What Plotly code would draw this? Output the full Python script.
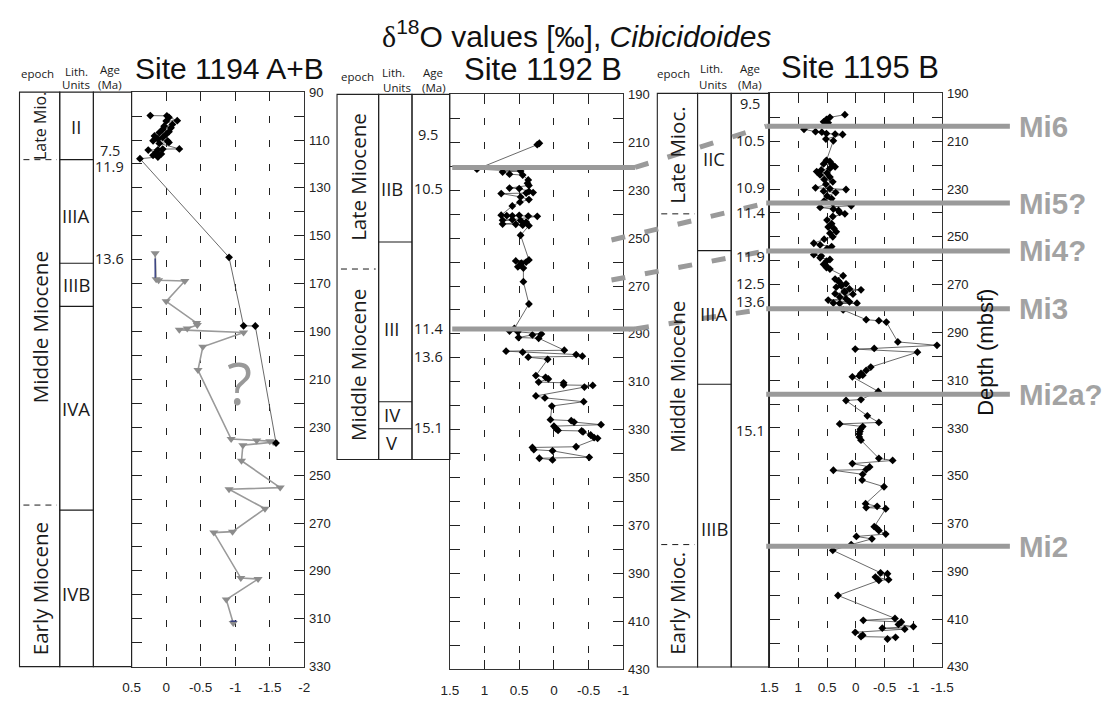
import plotly.graph_objects as go

W, H = 1120, 704

# ---------------- oxygen isotope data (depth in mbsf, d18O in permil) ----------------
# Site 1194 A+B, black diamonds
SITE_1194_DEPTH = [99.8, 99.9, 100.5, 101.9, 102.1, 103.5, 104.2, 104.9, 105.5, 106.5, 106.9,
                   107.6, 108.3, 108.9, 109.6, 110.3, 110.4, 111.0, 111.4, 113.7, 113.8, 114.1,
                   114.2, 115.1, 115.8, 116.4, 117.1, 117.8, 159.0, 187.6, 187.7, 236.6]
SITE_1194_D18O = [0.23, -0.01, -0.04, -0.16, 0.00, -0.09, 0.03, -0.07, 0.05, -0.04, 0.10,
                  0.00, 0.17, 0.05, 0.12, 0.19, -0.02, -0.04, 0.10, -0.19, 0.05, 0.12,
                  0.26, 0.145, 0.07, 0.19, 0.12, 0.38, -0.91, -1.12, -1.29, -1.59]

# Site 1194 A+B, grey triangles
SITE_1194B_DEPTH = [157.3, 168.2, 168.6, 168.9, 177.4, 186.4, 187.3, 188.7, 189.3, 190.4, 196.4,
                    206.1, 234.9, 235.5, 235.8, 236.2, 237.5, 244.0, 255.2, 255.9, 264.0, 273.6,
                    274.0, 293.0, 293.4, 302.0, 311.8]
SITE_1194B_D18O = [0.16, 0.145, 0.11, -0.27, 0.00, -0.44, -0.45, -0.305, -0.19, -1.12, -0.53,
                   -0.46, -0.94, -1.31, -1.50, -1.55, -1.11, -1.09, -1.65, -0.91, -1.43, -0.96,
                   -0.69, -1.08, -1.33, -0.87, -0.97]

# Site 1192 B
SITE_1192_DEPTH = [210.4, 211.0, 221.2, 222.0, 222.4, 223.3, 223.7, 225.7, 227.1, 228.0, 229.1,
                   229.3, 230.5, 231.0, 231.2, 231.4, 232.8, 233.9, 235.0, 236.6, 240.4, 240.5,
                   240.6, 240.7, 240.8, 240.9, 242.3, 242.5, 242.6, 243.3, 244.1, 244.2, 244.6,
                   244.8, 248.8, 259.1, 259.5, 260.0, 260.4, 261.1, 262.0, 262.5, 268.2, 277.5,
                   287.7, 288.8, 289.1, 290.0, 290.4, 291.5, 291.8, 296.8, 297.2, 297.6, 298.6,
                   299.3, 299.7, 300.6, 307.4, 308.1, 308.8, 310.1, 310.4, 311.3, 311.5, 312.2,
                   315.9, 316.7, 318.3, 320.1, 325.8, 326.2, 326.8, 327.9, 328.5, 329.5, 330.3,
                   330.5, 330.9, 332.2, 333.3, 333.6, 337.1, 337.4, 338.3, 338.8, 341.5, 341.9,
                   342.6]
SITE_1192_D18O = [0.21, 0.24, 1.11, 0.48, 0.74, 0.64, 0.45, 0.37, 0.38, 0.36, 0.64,
                  0.50, 0.36, 0.30, 0.40, 0.76, 0.48, 0.36, 0.49, 0.60, 0.76, 0.50,
                  0.68, 0.60, 0.37, 0.24, 0.60, 0.74, 0.48, 0.40, 0.74, 0.55, 0.45,
                  0.36, 0.48, 0.36, 0.55, 0.40, 0.47, 0.48, 0.52, 0.44, 0.44, 0.36,
                  0.57, 0.64, 0.52, 0.18, 0.31, 0.51, 0.22, -0.15, 0.69, 0.45, -0.32,
                  -0.41, 0.37, 0.09, 0.26, 0.12, 0.08, 0.22, -0.14, -0.14, -0.56, -0.44,
                  0.26, 0.13, -0.43, 0.03, 0.05, -0.25, -0.29, -0.68, 0.00, -0.03, -0.06,
                  -0.40, -0.42, -0.53, -0.58, -0.63, -0.32, 0.31, 0.29, 0.02, -0.51, 0.21,
                  0.02]

# Site 1195 B
SITE_1195_DEPTH = [198.9, 200.0, 200.9, 201.9, 202.3, 205.0, 206.0, 206.2, 206.8, 207.0, 207.2,
                   209.1, 209.8, 218.0, 218.5, 219.5, 220.0, 220.7, 221.4, 222.0, 222.7, 223.3,
                   224.1, 225.0, 226.0, 227.0, 228.0, 229.5, 229.8, 230.2, 230.9, 231.5, 232.9,
                   234.0, 235.0, 236.0, 237.0, 237.7, 238.4, 239.0, 239.8, 240.4, 241.5, 243.0,
                   244.5, 245.9, 246.5, 247.9, 248.5, 250.0, 251.0, 252.7, 253.4, 254.1, 255.0,
                   257.5, 258.0, 258.8, 259.5, 260.2, 261.5, 262.0, 262.9, 263.5, 266.3, 267.7,
                   268.5, 269.1, 269.7, 270.5, 271.1, 271.8, 272.2, 272.8, 273.2, 273.8, 274.0,
                   275.2, 275.9, 276.5, 277.2, 277.7, 277.8, 277.9, 280.6, 284.7, 285.1, 285.7,
                   294.0, 295.4, 296.7, 297.0, 298.3, 304.5, 305.9, 307.2, 307.9, 308.2, 308.6,
                   314.7, 318.1, 318.5, 324.9, 327.7, 328.3, 329.4, 330.5, 331.5, 332.5, 333.8,
                   335.1, 342.7, 343.6, 344.9, 346.3, 347.4, 347.7, 349.4, 351.8, 354.6, 361.7,
                   362.8, 363.3, 363.8, 371.3, 371.9, 372.9, 374.4, 375.4, 376.4, 378.8, 381.2,
                   390.6, 391.0, 392.4, 393.5, 393.8, 400.1, 409.7, 410.5, 411.2, 412.2, 413.1,
                   413.8, 414.2, 415.5, 416.7, 417.3, 417.6, 418.3]
SITE_1195_D18O = [0.19, 0.45, 0.51, 0.56, 0.48, 0.90, 0.70, 0.59, 0.51, 0.36, 0.23,
                  0.52, 0.39, 0.51, 0.45, 0.56, 0.40, 0.36, 0.45, 0.60, 0.68, 0.50,
                  0.62, 0.45, 0.55, 0.40, 0.52, 0.70, 0.45, 0.17, 0.56, 0.35, 0.50,
                  0.42, 0.55, 0.40, 0.08, 0.62, 0.39, 0.30, 0.28, 0.19, 0.40, 0.50,
                  0.42, 0.48, 0.38, 0.34, 0.45, 0.40, 0.55, 0.73, 0.62, 0.42, 0.50,
                  0.73, 0.60, 0.62, 0.45, 0.51, 0.56, 0.52, 0.51, 0.45, 0.22, 0.36,
                  0.30, 0.28, 0.17, 0.25, 0.34, 0.11, -0.09, 0.20, 0.19, 0.36, 0.05,
                  0.28, 0.17, 0.48, 0.11, 0.39, -0.02, 0.28, 0.22, -0.18, -0.40, -0.53,
                  -0.73, -1.41, -0.32, 0.01, -1.07, -0.26, -0.18, -0.09, -0.12, -0.06, 0.06,
                  -0.39, -0.09, 0.17, -0.20, -0.40, 0.28, -0.12, -0.08, -0.07, -0.06, -0.06,
                  -0.09, -0.40, -0.64, 0.06, -0.24, -0.18, 0.39, -0.12, -0.11, -0.49, -0.17,
                  -0.37, -0.18, -0.52, -0.32, -0.36, -0.40, -0.52, -0.01, -0.28, 0.08, 0.40,
                  -0.43, -0.55, -0.34, -0.57, -0.40, 0.31, -0.68, -0.13, -0.79, -0.74, -1.00,
                  -0.46, -0.85, 0.01, -0.12, -0.09, -0.69, -0.55]

# ---------------- stratigraphic columns ----------------
# (label, top depth, bottom depth, label depth)
EPOCHS_1194 = [("Late Mio.", 90, 118.2, 104), ("Middle Miocene", 118.2, 262.5, 188),
               ("Early Miocene", 262.5, 330, 297.5)]
LITH_1194 = [("II", 90, 118.2, 104.2), ("IIIA", 118.2, 161.5, 141.5), ("IIIB", 161.5, 179.5, 170.5),
             ("IVA", 179.5, 264.6, 222), ("IVB", 264.6, 330, 299.3)]
AGES_1194 = [("7.5", 114.4), ("11.9", 121.2), ("13.6", 159.4)]

EPOCHS_1192 = [("Late Miocene", 190, 262.9, 224.5), ("Middle Miocene", 262.9, 342.4, 303)]
LITH_1192 = [("IIB", 190, 251.6, 229.1), ("III", 251.6, 318.3, 287.7), ("IV", 318.3, 329.6, 323.5),
             ("V", 329.6, 342.4, 335.4)]
AGES_1192 = [("9.5", 206.9), ("10.5", 229.1), ("11.4", 287.7), ("13.6", 299.5), ("15.1", 329.2)]

EPOCHS_1195 = [("Late Mioc.", 190, 240.4, 216), ("Middle Miocene", 240.4, 378.8, 308.5),
               ("Early Mioc.", 378.8, 430, 403.5)]
LITH_1195 = [("IIC", 190, 255.8, 217.3), ("IIIA", 255.8, 311.7, 282), ("IIIB", 311.7, 430, 371.9)]
AGES_1195 = [("9.5", 194.1), ("10.5", 209.8), ("10.9", 229.5), ("11.4", 239.8), ("11.9", 258.2),
             ("12.5", 269.5), ("13.6", 277.0), ("15.1", 331.0)]

# Miocene oxygen isotope events (depth mbsf); None = not identified
MI_EVENTS = ["Mi6", "Mi5?", "Mi4?", "Mi3", "Mi2a?", "Mi2"]
MI_DEPTH_1195 = [203.7, 235.9, 255.9, 280.1, 315.9, 379.5]
MI_DEPTH_1192 = [220.5, 250.8, 267.5, 287.9, None, None]
MI_SOLID_1192 = [True, False, False, True, False, False]

# ---------------- layout geometry (pixels) ----------------
PANELS = {
    1: dict(left=125, right=301, top=87, bottom=674, depth=(90, 330), d18o=(0.5, -2),
            cols=(10.7, 51.7, 86, 125), col_bottom=330, ax=""),
    2: dict(left=449.3, right=626, top=89.3, bottom=676.7, depth=(190, 430), d18o=(1.5, -1),
            cols=(334.3, 376.7, 410.7, 449.3), col_bottom=342.4, ax="2"),
    3: dict(left=775, right=951, top=88.3, bottom=674.3, depth=(190, 430), d18o=(1.5, -1.5),
            cols=(660.7, 701.7, 736, 775), col_bottom=430, ax="3"),
}
COL_FONT = "Open Sans"
SANS = "Liberation Sans"
INK = "#1a1a1a"
MI_GREY = "#9a9a9a"


def fx(px):
    return px / W


def fy(py):
    return 1 - py / H


def depth_py(panel, d):
    p = PANELS[panel]
    d0, d1 = p["depth"]
    return p["top"] + (d - d0) / (d1 - d0) * (p["bottom"] - p["top"])


fig = go.Figure()


def text(t, x, y, size, family=COL_FONT, angle=0, color=INK, xanchor="center"):
    fig.add_annotation(text=t, x=fx(x), y=fy(y), xref="paper", yref="paper", showarrow=False,
                       textangle=angle, xanchor=xanchor, yanchor="middle",
                       font=dict(size=size, family=family, color=color))


def hline(x0, x1, y, color=INK, width=1, dash=None):
    fig.add_shape(type="line", xref="paper", yref="paper", x0=fx(x0), x1=fx(x1),
                  y0=fy(y), y1=fy(y), line=dict(color=color, width=width, dash=dash),
                  layer="above")


# ---------------- isotope curves ----------------
def curve(panel, depth, val, symbol, size, mcolor, lcolor, lwidth):
    ax = PANELS[panel]["ax"]
    fig.add_trace(go.Scatter(x=val, y=depth, xaxis="x" + ax, yaxis="y" + ax,
                             mode="lines+markers", cliponaxis=False,
                             marker=dict(symbol=symbol, size=size, color=mcolor, line=dict(width=0)),
                             line=dict(color=lcolor, width=lwidth), hoverinfo="skip"))


curve(1, SITE_1194B_DEPTH, SITE_1194B_D18O, "triangle-down", 8, "#8c8c8c", "#9a9a9a", 1.6)
curve(1, SITE_1194_DEPTH, SITE_1194_D18O, "diamond", 6, "black", "#444444", 0.8)
# short blue connector segments on the grey record
fig.add_trace(go.Scatter(x=[0.16, 0.16, None, -0.93, -1.02], y=[159.5, 167.5, None, 311, 311],
                         xaxis="x", yaxis="y", mode="lines", line=dict(color="#1f2a7a", width=1.2),
                         hoverinfo="skip"))
curve(2, SITE_1192_DEPTH, SITE_1192_D18O, "diamond", 6, "black", "#444444", 0.8)
curve(3, SITE_1195_DEPTH, SITE_1195_D18O, "diamond", 6, "black", "#444444", 0.8)

# ---------------- axes ----------------
X_TICKS = {1: [0.5, 0, -0.5, -1, -1.5, -2], 2: [1.5, 1, 0.5, 0, -0.5, -1],
           3: [1.5, 1, 0.5, 0, -0.5, -1, -1.5]}
layout_axes = {}
for k, p in PANELS.items():
    ax = p["ax"]
    d0, d1 = p["depth"]
    yt = list(range(d0, d1 + 1, 10))
    layout_axes["xaxis" + ax] = dict(
        domain=[fx(p["left"]), fx(p["right"])], range=list(p["d18o"]), anchor="y" + ax,
        side="bottom", ticks="inside", ticklen=9, tickwidth=1, tickcolor="#222",
        mirror="ticks", showline=True, linecolor="#333", linewidth=1.3,
        tickvals=X_TICKS[k], ticktext=[f"{t:g}" for t in X_TICKS[k]],
        showgrid=True, gridcolor="#222", gridwidth=1, griddash="7px,17px", zeroline=False,
        tickfont=dict(size=13.5, color="#222", family=SANS), ticklabelstandoff=8,
        fixedrange=True)
    layout_axes["yaxis" + ax] = dict(
        domain=[fy(p["bottom"]), fy(p["top"])], range=[d1, d0], anchor="x" + ax,
        side="right", ticks="inside", ticklen=10, tickwidth=1, tickcolor="#222",
        mirror="ticks", showline=True, linecolor="#333", linewidth=1.3,
        tickvals=yt, ticktext=[str(v) if (v - d0) % 20 == 0 else "" for v in yt],
        showgrid=False, zeroline=False,
        tickfont=dict(size=13, color="#222", family=SANS), ticklabelstandoff=1,
        fixedrange=True)

# ---------------- stratigraphic columns ----------------
COLUMNS = {1: (EPOCHS_1194, LITH_1194, AGES_1194, 31, 68.5, 102.5),
           2: (EPOCHS_1192, LITH_1192, AGES_1192, 355.5, 390.5, 427.5),
           3: (EPOCHS_1195, LITH_1195, AGES_1195, 680, 718.5, 755.5)}
for k, (epochs, liths, ages, ex, lx, agex) in COLUMNS.items():
    p = PANELS[k]
    c0, c1, c2, c3 = p["cols"]
    ytop = depth_py(k, p["depth"][0])
    ybot = depth_py(k, p["col_bottom"])
    for a, b in ((c0, c1), (c1, c2), (c2, c3)):
        fig.add_shape(type="rect", xref="paper", yref="paper", x0=fx(a), x1=fx(b),
                      y0=fy(ybot), y1=fy(ytop), line=dict(color="#222", width=1.1))
    for name, top, bot, lab in epochs:
        if top > p["depth"][0]:
            hline(c0 + 4, c1 - 3, depth_py(k, top), dash="6px,5px")
        size = 16 if name == "Late Mio." else 20.5
        text(name, ex, depth_py(k, lab), size, angle=-90)
    for name, top, bot, lab in liths:
        if top > p["depth"][0]:
            hline(c1, c2, depth_py(k, top), width=1.1)
        text(name, lx, depth_py(k, lab), 18.5)
    for name, d in ages:
        text(name, agex, depth_py(k, d), 14.5)

# column headers
HEADERS = [
    ("epoch", 28.7, 68), ("Lith.", 68.5, 66), ("Units", 68.5, 79.5), ("Age", 103, 64), ("(Ma)", 103, 79.5),
    ("epoch", 355.5, 71), ("Lith.", 392, 66.7), ("Units", 395, 82), ("Age", 431.7, 66.7), ("(Ma)", 433, 82),
    ("epoch", 677, 67.5), ("Lith.", 716, 63.3), ("Units", 717.5, 79), ("Age", 755, 63.3), ("(Ma)", 755, 79),
]
for t, x, y in HEADERS:
    text(t, x, y, 11.5)

# site titles and main title
text("Site 1194 A+B", 225, 62.5, 30, family=SANS, color="#111")
text("Site 1192 B", 544, 63.5, 31, family=SANS, color="#111")
text("Site 1195 B", 867, 62, 31, family=SANS, color="#111")
text('<span style="font-family:Liberation Serif">δ</span><sup>18</sup>O values [‰], <i>Cibicidoides</i>',
     578.5, 28, 30, family=SANS, color="#111")
text("Depth (mbsf)", 995, 353, 22, family=SANS, angle=-90, color="#111")
text("?", 235, 384, 58, family=COL_FONT, color="#999999")

# ---------------- Mi event correlation lines ----------------
for name, d95, d92, solid in zip(MI_EVENTS, MI_DEPTH_1195, MI_DEPTH_1192, MI_SOLID_1192):
    y3 = depth_py(3, d95)
    hline(771.7, 1020, y3, color=MI_GREY, width=5)
    text("<b>" + name + "</b>", 1027, y3, 29.5, family=SANS, color="#a3a3a3", xanchor="left")
    if d92 is None:
        continue
    y2 = depth_py(2, d92)
    if solid:
        hline(PANELS[2]["left"] + 2.4, 638, y2, color=MI_GREY, width=5)
        xs = 638
    else:
        xs = 614
    fig.add_shape(type="line", xref="paper", yref="paper", x0=fx(xs), y0=fy(y2),
                  x1=fx(771.7), y1=fy(y3), layer="above",
                  line=dict(color=MI_GREY, width=5, dash="14px,20px"))

fig.update_layout(width=W, height=H, autosize=False, margin=dict(l=0, r=0, t=0, b=0),
                  paper_bgcolor="white", plot_bgcolor="rgba(0,0,0,0)", showlegend=False,
                  font=dict(family=SANS, color="#111"), **layout_axes)

fig.write_html("out.html")
